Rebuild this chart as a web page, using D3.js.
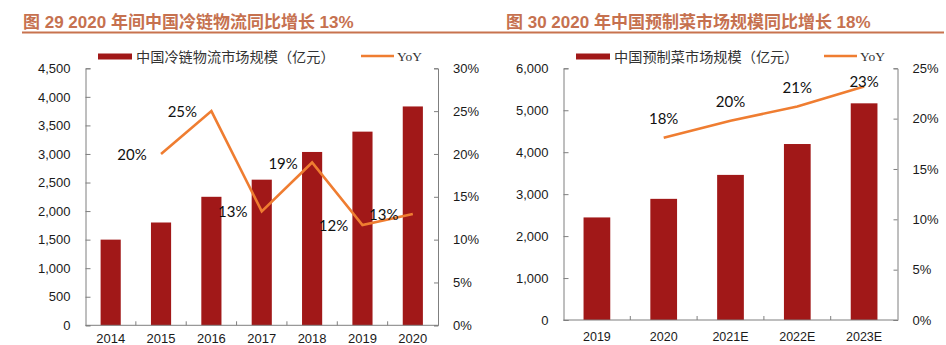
<!DOCTYPE html>
<html>
<head>
<meta charset="utf-8">
<script src="https://cdn.jsdelivr.net/npm/d3@7"></script>
<style>
  body { margin: 0; background: #fff; }
  svg { display: block; }
  .tick-label { font-family: "Liberation Sans", Arial, sans-serif; font-size: 13px; fill: #1a1a1a; }
  .pct-label { font-family: Lato, "Open Sans", sans-serif; font-size: 15px; fill: #111; }
  .title { font-family: "Liberation Sans", "Noto Sans CJK SC", sans-serif; font-weight: bold; font-size: 17px; fill: #c6714f; }
  .legend-text { font-family: "Noto Sans CJK SC", sans-serif; font-size: 14.2px; fill: #333; }
  .legend-yoy { font-family: "Liberation Serif", serif; font-size: 13.5px; fill: #333; }
</style>
</head>
<body>
<svg id="chart" width="946" height="345"></svg>
<script>
// cold chain logistics market, 2014-2020 (亿元)
var coldYears = ["2014", "2015", "2016", "2017", "2018", "2019", "2020"];
var coldSize = [1500, 1800, 2250, 2550, 3035, 3391, 3832];
var coldYoY = [null, 0.20, 0.25, 0.133, 0.19, 0.117, 0.13];
var coldYoYText = ["", "20%", "25%", "13%", "19%", "12%", "13%"];
var coldLeftTicks = [0, 500, 1000, 1500, 2000, 2500, 3000, 3500, 4000, 4500];
var coldRightTicks = [0, 0.05, 0.10, 0.15, 0.20, 0.25, 0.30];

// prepared dishes market, 2019-2023E (亿元)
var dishYears = ["2019", "2020", "2021E", "2022E", "2023E"];
var dishSize = [2445, 2888, 3459, 4195, 5165];
var dishYoY = [null, 0.181, 0.198, 0.212, 0.232];
var dishYoYText = ["", "18%", "20%", "21%", "23%"];
var dishLeftTicks = [0, 1000, 2000, 3000, 4000, 5000, 6000];
var dishRightTicks = [0, 0.05, 0.10, 0.15, 0.20, 0.25];

var barColor = "#a11818";
var lineColor = "#ef7d31";
var axisColor = "#7f7f7f";

var svg = d3.select("#chart");

// header rule shared by both figures
svg.append("line")
  .attr("x1", 22).attr("x2", 944)
  .attr("y1", 32.5).attr("y2", 32.5)
  .attr("stroke", "#c8734f")
  .attr("stroke-width", 2);

function drawPanel(p) {
  var g = svg.append("g");

  g.append("text").attr("class", "title")
    .attr("x", p.titleX).attr("y", 27.5)
    .text(p.title);

  var x = d3.scaleBand()
    .domain(p.cats)
    .range([p.left, p.right])
    .paddingInner(0.6)
    .paddingOuter(0.3);

  var yL = d3.scaleLinear().domain([0, d3.max(p.leftTicks)]).range([p.bottom, p.top]);
  var yR = d3.scaleLinear().domain([0, d3.max(p.rightTicks)]).range([p.bottom, p.top]);

  // bars
  g.selectAll("rect.bar")
    .data(p.values)
    .enter().append("rect")
    .attr("class", "bar")
    .attr("x", function(d, i) { return x(p.cats[i]); })
    .attr("y", function(d) { return yL(d); })
    .attr("width", x.bandwidth())
    .attr("height", function(d) { return p.bottom - yL(d); })
    .attr("fill", barColor);

  // left axis
  var leftAxis = d3.axisLeft(yL)
    .tickValues(p.leftTicks)
    .tickSize(-5)
    .tickPadding(15)
    .tickFormat(d3.format(","));
  var la = g.append("g").attr("transform", "translate(" + p.left + ",0)").call(leftAxis);

  // right axis
  var rightAxis = d3.axisRight(yR)
    .tickValues(p.rightTicks)
    .tickSize(-4)
    .tickPadding(15)
    .tickFormat(d3.format(".0%"));
  var ra = g.append("g").attr("transform", "translate(" + p.right + ",0)").call(rightAxis);

  // bottom axis with ticks between categories
  var bx = g.append("g");
  bx.append("line")
    .attr("x1", p.left).attr("x2", p.right)
    .attr("y1", p.bottom).attr("y2", p.bottom)
    .attr("stroke", axisColor);
  var step = x.step();
  bx.selectAll("line.sep")
    .data(p.cats.slice(1))
    .enter().append("line")
    .attr("class", "sep")
    .attr("x1", function(d) { return x(d) - step * 0.3; })
    .attr("x2", function(d) { return x(d) - step * 0.3; })
    .attr("y1", p.bottom).attr("y2", p.bottom - 4)
    .attr("stroke", axisColor);
  bx.selectAll("text")
    .data(p.cats)
    .enter().append("text")
    .attr("class", "tick-label")
    .style("font-size", p.xFont + "px")
    .attr("x", function(d) { return x(d) + x.bandwidth() / 2; })
    .attr("y", p.xLabelY)
    .attr("text-anchor", "middle")
    .text(function(d) { return d; });

  [la, ra].forEach(function(a) {
    a.select(".domain").attr("stroke", axisColor);
    a.selectAll(".tick line").attr("stroke", axisColor);
    a.selectAll(".tick text").attr("class", "tick-label").attr("font-family", null).attr("font-size", null);
  });

  // YoY line
  var pts = p.yoy.map(function(v, i) {
    return v == null ? null : [x(p.cats[i]) + x.bandwidth() / 2, yR(v), p.yoyText[i]];
  }).filter(function(d) { return d; });

  g.append("path")
    .datum(pts)
    .attr("fill", "none")
    .attr("stroke", lineColor)
    .attr("stroke-width", 2.6)
    .attr("d", d3.line().x(function(d) { return d[0]; }).y(function(d) { return d[1]; }));

  g.selectAll("text.pct")
    .data(pts)
    .enter().append("text")
    .attr("class", "pct-label")
    .attr("text-anchor", "middle")
    .attr("dominant-baseline", "central")
    .attr("x", function(d) { return d[0] + p.labelDx; })
    .attr("y", function(d) { return Math.max(d[1] + p.labelDy, p.labelMinY); })
    .text(function(d) { return d[2]; });

  // legend
  var lg = g.append("g");
  lg.append("rect")
    .attr("x", p.legendX).attr("y", 53.5)
    .attr("width", 34).attr("height", 6)
    .attr("fill", barColor);
  lg.append("text").attr("class", "legend-text")
    .attr("x", p.legendX + 38).attr("y", 61.5)
    .text(p.legendName);
  lg.append("line")
    .attr("x1", p.yoyX).attr("x2", p.yoyX + 33)
    .attr("y1", 56).attr("y2", 56)
    .attr("stroke", lineColor).attr("stroke-width", 2.6);
  lg.append("text").attr("class", "legend-yoy")
    .attr("x", p.yoyX + 36).attr("y", 61)
    .text("YoY");
}

drawPanel({
  title: "图 29 2020 年间中国冷链物流同比增长 13%",
  titleX: 23,
  cats: coldYears, values: coldSize, yoy: coldYoY, yoyText: coldYoYText,
  leftTicks: coldLeftTicks, rightTicks: coldRightTicks,
  left: 85.5, right: 438, top: 68.3, bottom: 325.3,
  xLabelY: 343, xFont: 13,
  labelDx: -29, labelDy: 0, labelMinY: 0,
  legendName: "中国冷链物流市场规模（亿元）",
  legendX: 98, yoyX: 361
});

drawPanel({
  title: "图 30 2020 年中国预制菜市场规模同比增长 18%",
  titleX: 506,
  cats: dishYears, values: dishSize, yoy: dishYoY, yoyText: dishYoYText,
  leftTicks: dishLeftTicks, rightTicks: dishRightTicks,
  left: 563.5, right: 897.5, top: 68.3, bottom: 320,
  xLabelY: 340.5, xFont: 12.5,
  labelDx: 0, labelDy: -20, labelMinY: 80.7,
  legendName: "中国预制菜市场规模（亿元）",
  legendX: 576, yoyX: 824
});
</script>
</body>
</html>
